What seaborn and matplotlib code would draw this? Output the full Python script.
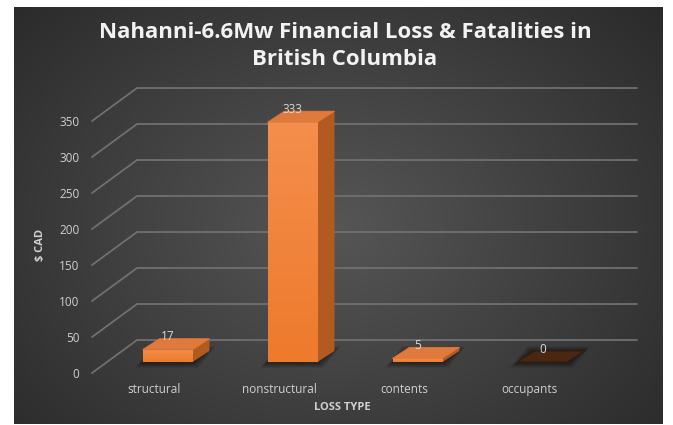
import numpy as np
import pandas as pd
import matplotlib
matplotlib.use("Agg")
import matplotlib.pyplot as plt
from matplotlib.patches import Polygon
from matplotlib.colors import LinearSegmentedColormap
import seaborn as sns

categories = ["structural", "nonstructural", "contents", "occupants"]
values = [17, 333, 5, 0]
y_ticks = [0, 50, 100, 150, 200, 250, 300, 350]
title = "Nahanni-6.6Mw Financial Loss & Fatalities in\nBritish Columbia"
x_title = "LOSS TYPE"
y_title = "$ CAD"

sns.set_theme(style="white")
plt.rcParams["font.family"] = ["Open Sans", "DejaVu Sans"]

W, H = 673, 425
fig = plt.figure(figsize=(W / 100, H / 100), dpi=100)
fig.patch.set_facecolor("white")

# dark chart area with a soft radial glow
bg = fig.add_axes([14 / W, 1 - 424 / H, 649 / W, 417 / H])
yy, xx = np.mgrid[0:417, 0:649]
r = np.sqrt(((xx - 320) / 430) ** 2 + ((yy - 220) / 330) ** 2)
edge = np.array([0x2b, 0x2b, 0x2b]) / 255
centre = np.array([0x56, 0x56, 0x56]) / 255
img = centre + (edge - centre) * np.clip(r, 0, 1)[..., None]
bg.imshow(img, aspect="auto", interpolation="bilinear")
bg.axis("off")

# plotting axes = front plane of the 3-D box
ax = fig.add_axes([92 / W, 1 - 373 / H, 500 / W, 252 / H])
ax.patch.set_alpha(0)
ax.set_zorder(2)

# depth offsets in data units (x: categories, y: value)
DX, DY = 0.36, 45.8          # back wall
FX, FY = 0.104, 15.3         # bar front faces
BX, BY = 0.24, 30.6          # bar back faces

grid_c = "#707070"
for v in y_ticks:
    ax.plot([-0.5, -0.5 + DX, 3.5 + DX], [v, v + DY, v + DY],
            color=grid_c, lw=1.3, clip_on=False, zorder=1,
            solid_joinstyle="miter")

df = pd.DataFrame({"loss": categories, "value": values})
sns.barplot(data=df, x="loss", y="value", ax=ax, width=0.4,
            color="#F3853A", saturation=1, edgecolor="none", zorder=4)

front_cmap = LinearSegmentedColormap.from_list("front", ["#EE7A2C", "#F48E4C"])
top_c, side_c, zero_c = "#E07A3C", "#B35A20", "#4A2710"
for p in list(ax.patches):
    x0, w, h = p.get_x(), p.get_width(), p.get_height()
    p.set_x(x0 + FX)
    p.set_y(FY)
    p.set_clip_on(False)
    fl, fr = x0 + FX, x0 + FX + w
    bl, br = x0 + BX, x0 + BX + w
    # soft shadow on the floor
    for k, a in enumerate([0.10, 0.10, 0.12, 0.15]):
        e = (4 - k) * 0.012
        ey = (4 - k) * 1.6
        ax.add_patch(Polygon([(fl - e - 0.01, FY - ey - 1.5), (fr + e, FY - ey - 1.5),
                              (br + e, BY + ey), (bl - e - 0.01, BY + ey)],
                             closed=True, facecolor="black", alpha=a,
                             edgecolor="none", zorder=2, clip_on=False))
    if h > 0:
        # light-to-dark shading down the front face
        grad = np.linspace(1, 0, 64)[:, None]
        im = ax.imshow(grad, cmap=front_cmap, aspect="auto",
                       extent=[fl, fr, FY, h + FY], zorder=4.5,
                       interpolation="bilinear")
        im.set_clip_path(p)
        ax.add_patch(Polygon([(fr, FY), (br, BY), (br, h + BY), (fr, h + FY)],
                             closed=True, facecolor=side_c, edgecolor="none",
                             zorder=4, clip_on=False))
    tc = top_c if h > 0 else zero_c
    ax.add_patch(Polygon([(fl, h + FY), (fr, h + FY), (br, h + BY), (bl, h + BY)],
                         closed=True, facecolor=tc,
                         edgecolor=tc if h > 0 else "#2e1a0b", lw=0.6,
                         zorder=5, clip_on=False))

for i, v in enumerate(values):
    ax.text(i + FX, v + BY + 2.5, str(v), ha="center", va="center",
            color="#d9d9d9", fontsize=8.5, zorder=6, clip_on=False)

ax.set_xlim(-0.5, 3.5)
ax.set_ylim(0, 350)
ax.set_yticks(y_ticks)
ax.set_yticklabels([str(t) for t in y_ticks])
for s in ax.spines.values():
    s.set_visible(False)
ax.grid(False)
ax.tick_params(axis="y", length=0, pad=9, labelcolor="#d0d0d0", labelsize=8.5)
ax.tick_params(axis="x", length=0, pad=7, labelcolor="#d0d0d0", labelsize=8.5)

ax.set_xlabel(x_title, color="#d0d0d0", fontsize=8, fontweight="bold")
ax.xaxis.set_label_coords((342 - 92) / 500, (373 - 408) / 252)
ax.xaxis.label.set_va("center")
ax.set_ylabel(y_title, color="#d0d0d0", fontsize=8, fontweight="bold")
ax.yaxis.set_label_coords((41 - 92) / 500, (373 - 245) / 252)
ax.yaxis.label.set_va("center")

fig.text(345 / W, 1 - 46 / H, title, ha="center", va="center",
         fontsize=16, fontweight="bold", color="#f2f2f2", linespacing=1.35)

fig.savefig("out.png", dpi=100, facecolor="white")
